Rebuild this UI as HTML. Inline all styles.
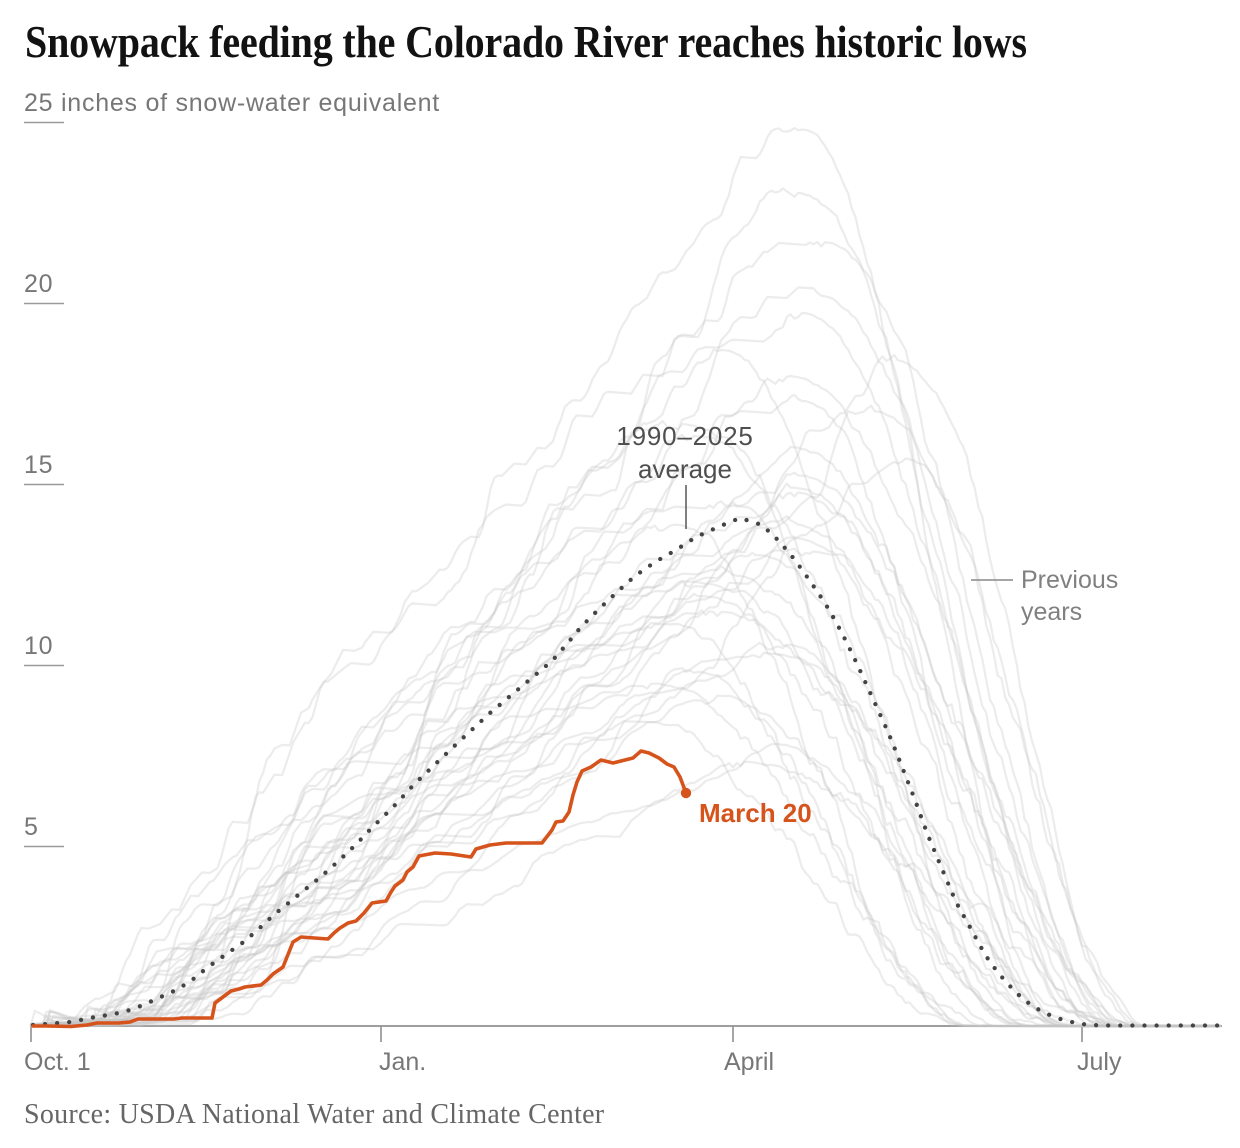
<!DOCTYPE html>
<html><head><meta charset="utf-8">
<style>html,body{margin:0;padding:0;background:#fff}svg{display:block}</style>
</head>
<body>
<svg id="s" width="1240" height="1148" viewBox="0 0 1240 1148" xmlns="http://www.w3.org/2000/svg">
<rect width="1240" height="1148" fill="#fff"/>
<text x="25" y="57" font-family="Liberation Serif, serif" font-weight="bold" font-size="40" letter-spacing="-0.15" fill="#121212" transform="matrix(1 0 0 1.15 0 -8.55)">Snowpack feeding the Colorado River reaches historic lows</text>

<g font-family="Liberation Sans, Arial, sans-serif" font-size="25" fill="#777">
  <text x="24" y="111" letter-spacing="0.75">25 inches of snow-water equivalent</text>
  <text x="24" y="292" letter-spacing="0.7">20</text>
  <text x="24" y="473" letter-spacing="0.7">15</text>
  <text x="24" y="654" letter-spacing="0.7">10</text>
  <text x="24" y="835">5</text>
</g>
<g stroke="#9a9a9a" stroke-width="1.4">
  <line x1="24" y1="122.5" x2="64" y2="122.5"/>
  <line x1="24" y1="303.5" x2="64" y2="303.5"/>
  <line x1="24" y1="484.5" x2="64" y2="484.5"/>
  <line x1="24" y1="665.5" x2="64" y2="665.5"/>
  <line x1="24" y1="846.5" x2="64" y2="846.5"/>
</g>

<line x1="31" y1="1026" x2="1222" y2="1026" stroke="#909090" stroke-width="1.8"/>
<g stroke="#909090" stroke-width="1.6">
  <line x1="31" y1="1026" x2="31" y2="1042"/>
  <line x1="381" y1="1026" x2="381" y2="1042"/>
  <line x1="733" y1="1026" x2="733" y2="1042"/>
  <line x1="1082" y1="1026" x2="1082" y2="1042"/>
</g>
<g font-family="Liberation Sans, Arial, sans-serif" font-size="25" fill="#777">
  <text x="24" y="1070">Oct. 1</text>
  <text x="379" y="1070">Jan.</text>
  <text x="724" y="1070">April</text>
  <text x="1077" y="1070">July</text>
</g>

<g id="gray" fill="none" stroke="#c4c4c4" stroke-opacity="0.33" stroke-width="2.2" stroke-linejoin="round" stroke-linecap="round"></g>

<path fill="none" stroke="#444" stroke-width="4.3" stroke-linecap="round" stroke-dasharray="0 12.1"
d="M33,1025 L47,1024 L59,1023 L71,1022 L83,1019.5 L95,1017 L108,1015 L119,1013 L130,1010 L142,1005.5 L153,1000.5 L164,995.5 L175,990.5 L186,984 L196,977 L205,969.5 L215,962 L225,955 L235,948 L245,941 L254,933 L263,925 L272,916.5 L281,909 L291,901 L300,893.5 L310,885.5 L320,877.5 L329,869.5 L338,861.5 L347,853 L356,844.5 L364,836 L372,827.5 L381,819 L389,811 L398,802 L406,793 L414,784.5 L450,750 L490,713 L540,671 L552,661 L566,645 L581,627 L599,609 L617,592 L635,576 L655,562 L676,550 L696,537 L718,527 L740,518 L762,525 L779,541 L795,560 L810,581 L825,603 L836,622 L847,643 L858,666 L868,688 L878,710 L888,732 L897,754 L906,777 L915,800 L927,833 L942,869 L956,902 L962,913 L968,923.5 L974,934.5 L980,945.5 L986,956 L993,966 L1000,975 L1008,984 L1016,992.5 L1025,1000.5 L1035,1007.5 L1046,1013.5 L1057,1018 L1069,1021.5 L1081,1024 L1100,1025.5 L1220,1025.5"/>

<path fill="none" stroke="#d6531b" stroke-width="3.6" stroke-linejoin="round" stroke-linecap="round"
d="M33,1026 L47,1026 L71,1026.5 L87,1025 L97,1023 L119,1023 L130,1022 L138,1019 L158,1019 L174,1019 L182,1018 L212,1018 L215,1003 L223,997 L231,991 L239,989 L245,987 L261,985 L267,980 L273,974 L283,967 L293,942 L301,937 L328,939 L334,933 L340,928 L348,923 L356,921 L364,913 L372,903 L386,901 L391,892 L395,886 L403,880 L407,872 L413,867 L419,856 L435,853 L451,854 L471,857 L476,849 L490,845 L506,843 L542,843 L552,830 L556,822 L563,821 L569,812 L573,795 L577,782 L582,771 L591,767 L601,760 L613,763 L625,760 L633,758 L641,751 L649,753 L659,758 L667,764 L674,767 L680,777 L686,793"/>
<circle cx="686" cy="793" r="5.2" fill="#d6531b"/>
<text x="699" y="822" font-family="Liberation Sans, Arial, sans-serif" font-weight="bold" font-size="26" fill="#d6531b">March 20</text>

<g font-family="Liberation Sans, Arial, sans-serif" font-size="26" fill="#4f4f4f" text-anchor="middle">
  <text x="685" y="445" letter-spacing="0.8">1990–2025</text>
  <text x="685" y="478">average</text>
</g>
<line x1="686" y1="485" x2="686" y2="529" stroke="#555" stroke-width="1.5"/>

<line x1="971" y1="580" x2="1013" y2="580" stroke="#888" stroke-width="1.5"/>
<g font-family="Liberation Sans, Arial, sans-serif" font-size="25" fill="#808080">
  <text x="1021" y="588">Previous</text>
  <text x="1021" y="620">years</text>
</g>

<text x="24" y="1123" font-family="Liberation Serif, serif" font-size="28" letter-spacing="0.27" fill="#666">Source: USDA National Water and Climate Center</text>
</svg>
<script>
(function(){
function rnd(a){return function(){a|=0;a=a+0x6D2B79F5|0;var t=Math.imul(a^a>>>15,1|a);t=t+Math.imul(t^t>>>7,61|t)^t;return((t^t>>>14)>>>0)/4294967296;};}
var r=rnd(7741);
function X(d){if(d<=92)return 31+d*350/92;if(d<=182)return 381+(d-92)*352/90;if(d<=273)return 733+(d-182)*349/91;return 1082+(d-273)*3.84;}
function Y(v){return 1026-v*36.16;}
var peaks=[24.8,23.1,21.6,20.4,19.6,18.7,18.4,17.9,17.4,17.0,16.6,16.2,15.9,15.6,15.3,15.0,14.7,14.4,14.1,13.8,13.5,13.2,12.9,12.6,12.2,11.8,11.4,11.0,10.6,10.2,9.8,9.4,9.0,8.4,7.8,7.2];
var out='';
for(var k=0;k<peaks.length;k++){
  var P=peaks[k];
  var tp;
  if(k==0)tp=193;
  else if(k==6||k==9||k==13)tp=Math.round(212+r()*14);
  else tp=Math.round(180+(r()-0.5)*40+(P-14)*0.6);
  if(tp<155)tp=155;
  var s0=8+r()*35;
  var c=[],cum=0;
  for(var t=0;t<=tp;t++){
    var w=t<s0?0.08:Math.min(1,0.5+(t-s0)/30);
    var a=(r()<0.38)?(0.15+1.1*r()*r())*w:-0.008;
    cum+=a;if(cum<0)cum=0;
    c.push(cum);
  }
  var sm=[];
  for(var t=0;t<c.length;t++){var a0=c[Math.max(0,t-2)],a1=c[Math.max(0,t-1)];sm.push((a0+a1+c[t])/3);}
  c=sm;
  var sc=P/(c[tp]||1);
  var v=[];
  for(var t=0;t<=tp;t++)v.push(c[t]*sc);
  if(r()<0.4){
    var b0=r()*25,A=0.1+r()*0.4,L=6+r()*14;
    for(var t=0;t<=tp;t++){if(t>=b0&&t<b0+L)v[t]+=A*(1-(t-b0)/L);}
  }
  var pl=Math.floor(r()*8),pn=0;
  for(var i=0;i<pl;i++){pn=0.7*pn+(r()-0.5)*0.25;v.push(P+pn);}
  var t0=tp+pl;
  var tend=t0+65+r()*35;
  if(tend<242)tend=242+r()*10;if(tend>292)tend=288+r()*4;
  var D=Math.max(40,tend-t0),n=0,base=v[v.length-1];
  for(var t=t0+1;t<=309;t++){
    var s=(t-t0)/D,val=0;
    if(s<1){
      n=0.85*n+(r()-0.5)*0.45;
      val=base*(0.5+0.5*Math.cos(Math.PI*s))+n*Math.sin(Math.PI*s)*Math.min(1.2,base/10);
      if(val<0)val=0;
    }
    v.push(val);
  }
  var d='M'+X(0).toFixed(1)+','+Y(v[0]).toFixed(1);
  for(var t=1;t<v.length;t++){
    var x=X(t);if(x>1222)break;
    d+=' L'+x.toFixed(1)+','+Y(v[t]).toFixed(1);
  }
  out+='<path d="'+d+'"/>';
}
var g=document.getElementById('gray');
var tmp=new DOMParser().parseFromString('<svg xmlns="http://www.w3.org/2000/svg">'+out+'</svg>','image/svg+xml');
var ps=tmp.documentElement.childNodes;
for(var i=0;i<ps.length;i++){g.appendChild(document.importNode(ps[i],true));}
})();
</script>
</body></html>
